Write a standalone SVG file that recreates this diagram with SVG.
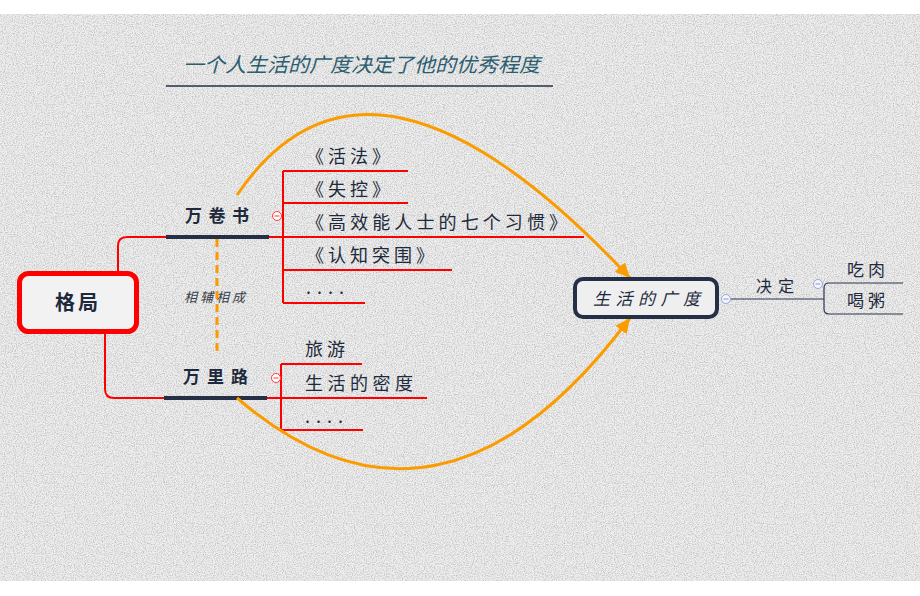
<svg xmlns="http://www.w3.org/2000/svg" width="920" height="596" viewBox="0 0 920 596">
<style>
.t{font-family:"Noto Sans CJK SC","Noto Sans CJK JP",sans-serif;fill:#1e2a3c}
.b{font-weight:bold}
.it{font-style:italic}
.red{stroke:#ff0000;stroke-width:2;fill:none}
.navy{stroke:#253047;fill:none}
.thin{stroke:#2a3550;stroke-width:1.2;fill:none}
.orange{stroke:#fa9c00;stroke-width:3;fill:none}
.col{fill:#fff;stroke:#ff3b3b;stroke-width:1}
.colb{fill:#f4f6ff;stroke:#9aa6d8;stroke-width:1}
</style>
<defs>
<filter id="noise" x="0" y="0" width="100%" height="100%">
<feTurbulence type="fractalNoise" baseFrequency="0.9" numOctaves="2" seed="7" result="n"/>
<feColorMatrix in="n" type="matrix" values="0 0 0 0 0.5 0 0 0 0 0.5 0 0 0 0 0.5 0 0 0 -2.6 1.55"/>
</filter>
<marker id="arr" markerUnits="userSpaceOnUse" markerWidth="16" markerHeight="16" viewBox="0 0 16 16" refX="15" refY="8" orient="auto">
<path d="M0,1 L15,8 L0,15 Z" fill="#fa9c00"/>
</marker>
</defs>
<rect x="0" y="0" width="920" height="596" fill="#ffffff"/>
<rect x="0" y="14" width="920" height="567" fill="#eeeeee"/>
<rect x="0" y="14" width="920" height="567" filter="url(#noise)" opacity="0.8"/>

<g id="title">
<text class="t it" x="183" y="72" font-size="20" style="fill:#2b5d6f" textLength="357" lengthAdjust="spacingAndGlyphs">一个人生活的广度决定了他的优秀程度</text>
<line x1="166" y1="86" x2="553" y2="86" stroke="#253047" stroke-width="1.5"/>
</g>

<g id="connectors">
<path class="red" d="M118,271 V246 Q118,237 127,237 H166"/>
<path class="red" d="M105,334 V389 Q105,398 114,398 H164"/>
<line x1="166" y1="237" x2="269" y2="237" stroke="#253047" stroke-width="4"/>
<line x1="164" y1="398" x2="267" y2="398" stroke="#253047" stroke-width="4"/>
<path class="red" d="M269,237 H584 M283,171 V303 M283,171 H408 M283,203 H408 M283,270 H452 M283,303 H365"/>
<path class="red" d="M267,398 H427 M281,364 V430 M281,364 H362 M281,430 H363"/>
<line x1="217" y1="239" x2="217" y2="353" stroke="#fa9c00" stroke-width="3" stroke-dasharray="8,5"/>
<path class="orange" d="M237,195 Q370,0 630,278" marker-end="url(#arr)"/>
<path class="orange" d="M237,398 Q440,572 630,318" marker-end="url(#arr)"/>
<path class="thin" d="M731,299 H824"/>
<path class="thin" d="M903,283 H829 Q824,283 824,288 V309 Q824,314 829,314 H903"/>
<circle class="col" cx="277" cy="216" r="4.5"/><line x1="274.5" y1="216" x2="279.5" y2="216" stroke="#ff3b3b" stroke-width="1"/>
<circle class="col" cx="276" cy="378" r="4.5"/><line x1="273.5" y1="378" x2="278.5" y2="378" stroke="#ff3b3b" stroke-width="1"/>
<circle class="colb" cx="726" cy="299" r="4.5"/><line x1="723.5" y1="299" x2="728.5" y2="299" stroke="#8a96c8" stroke-width="1"/>
<circle class="colb" cx="818" cy="284" r="4.5"/><line x1="815.5" y1="284" x2="820.5" y2="284" stroke="#8a96c8" stroke-width="1"/>
</g>

<g id="root">
<rect x="19.5" y="273.5" width="117" height="58" rx="9" fill="#f2f2f2" stroke="#ff0000" stroke-width="5"/>
<text class="t b" x="78" y="310" font-size="20" text-anchor="middle" letter-spacing="3">格局</text>
</g>

<g id="wanjuanshu">
<text class="t b" x="185" y="222" font-size="17" textLength="64" lengthAdjust="spacing">万卷书</text>
</g>
<g id="wanlilu">
<text class="t b" x="183" y="383" font-size="17" textLength="65" lengthAdjust="spacing">万里路</text>
</g>
<g id="xiangfu">
<text class="t it" x="216" y="302" font-size="13" text-anchor="middle" letter-spacing="3" style="fill:#3a3f4a">相辅相成</text>
</g>

<g id="book1"><text class="t" x="306" y="163" font-size="18" textLength="84" lengthAdjust="spacing">《活法》</text></g>
<g id="book2"><text class="t" x="306" y="196" font-size="18" textLength="84" lengthAdjust="spacing">《失控》</text></g>
<g id="book3"><text class="t" x="306" y="229" font-size="18" textLength="261" lengthAdjust="spacing">《高效能人士的七个习惯》</text></g>
<g id="book4"><text class="t" x="306" y="262" font-size="18" textLength="128" lengthAdjust="spacing">《认知突围》</text></g>
<g id="book5"><text class="t" x="306" y="294" font-size="18" letter-spacing="6">....</text></g>

<g id="road1"><text class="t" x="305" y="356" font-size="18" letter-spacing="4">旅游</text></g>
<g id="road2"><text class="t" x="305" y="390" font-size="18" textLength="108" lengthAdjust="spacing">生活的密度</text></g>
<g id="road3"><text class="t" x="305" y="423" font-size="18" letter-spacing="6">....</text></g>

<g id="center">
<rect x="575" y="279" width="142" height="38" rx="8" fill="#efefef" stroke="#253047" stroke-width="4"/>
<text class="t it" x="593" y="305" font-size="17" textLength="107" lengthAdjust="spacing">生活的广度</text>
</g>

<g id="jueding"><text class="t" x="756" y="292" font-size="16" letter-spacing="6">决定</text></g>
<g id="chirou"><text class="t" x="847" y="276" font-size="17" letter-spacing="4">吃肉</text></g>
<g id="hezhou"><text class="t" x="847" y="307" font-size="17" letter-spacing="4">喝粥</text></g>
</svg>
